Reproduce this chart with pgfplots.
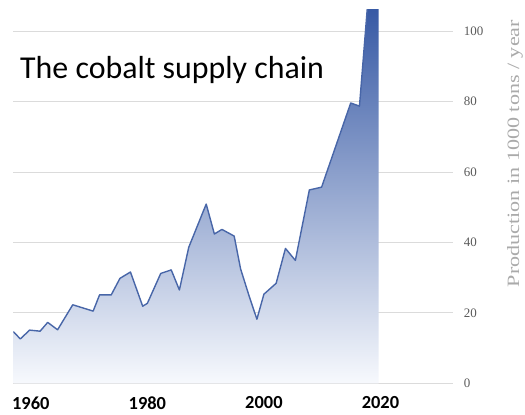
\documentclass[border=0pt]{standalone}
\usepackage{fontspec}
\usepackage{graphicx}
\usepackage{pgfplots}
\pgfplotsset{compat=1.18}
\setmainfont{Liberation Serif}
\newfontfamily\carlito{Carlito}

\definecolor{lineblue}{RGB}{72,102,168}
\definecolor{shadetop}{RGB}{56,90,165}
\definecolor{shadebot}{RGB}{247,249,253}
\definecolor{gridgray}{RGB}{219,219,219}
\definecolor{ticktext}{RGB}{89,89,89}
\definecolor{labeltext}{RGB}{170,170,170}

% Vertical shading: the path box spans 0..147 kt, mapped to 25bp..75bp;
% the dark tone is reached at about 106 kt (61bp).
\pgfdeclareverticalshading{cobaltfill}{100bp}{%
  color(0bp)=(shadebot); color(25bp)=(shadebot);
  color(61bp)=(shadetop); color(100bp)=(shadetop)}

\pgfplotstableread{
year  kt
1957.0 14.7
1958.2 12.6
1959.8 15.1
1961.6 14.8
1962.9 17.3
1964.6 15.2
1967.2 22.3
1970.7 20.5
1971.8 25.1
1973.8 25.1
1975.3 29.8
1977.1 31.6
1979.2 21.9
1980.0 22.7
1982.3 31.2
1984.1 32.2
1985.5 26.5
1987.1 38.6
1990.1 50.9
1991.5 42.4
1992.8 43.7
1994.9 41.8
1996.0 32.5
1997.5 24.6
1998.8 18.2
2000.0 25.3
2002.1 28.4
2003.7 38.3
2005.4 34.9
2007.8 54.9
2009.9 55.7
2014.9 79.6
2016.4 78.7
2019.7 147
}\cobalt

\begin{document}
\begin{tikzpicture}[x=1bp,y=1bp]
\path[use as bounding box] (0,0) rectangle (525,414);
\begin{axis}[
  at={(13.3bp,30.7bp)}, anchor=south west,
  scale only axis, width=440bp, height=373.3bp,
  xmin=1957, xmax=2032.5, ymin=0, ymax=106,
  axis line style={draw=none},
  tick style={draw=none},
  ymajorgrids, grid style={gridgray, line width=0.9bp},
  ytick={0,20,40,60,80,100},
  xtick={1960,1980,2000,2020},
  yticklabel pos=right,
  /pgf/number format/1000 sep={},
  /pgf/number format/assume math mode=true,
  y tick label style={font=\fontsize{13}{15}\selectfont, text=ticktext, anchor=west, xshift=7bp},
  x tick label style={font=\carlito\bfseries\fontsize{18.5}{20}\selectfont, text=black, yshift=-10bp},
]
\addplot[draw=none, shading=cobaltfill] table[x=year, y=kt] {\cobalt} \closedcycle;
\addplot[lineblue, line width=1.4bp, line join=round] table[x=year, y=kt] {\cobalt};
\end{axis}
\node[anchor=base west, inner sep=0] at (20,336) {\carlito\fontsize{32}{36}\selectfont The cobalt supply chain};
\node[rotate=90, inner sep=0, text=labeltext] at (515,260.5)
  {\resizebox{267bp}{12bp}{\fontsize{16}{19}\selectfont Production in 1000 tons / year}};
\end{tikzpicture}
\end{document}
